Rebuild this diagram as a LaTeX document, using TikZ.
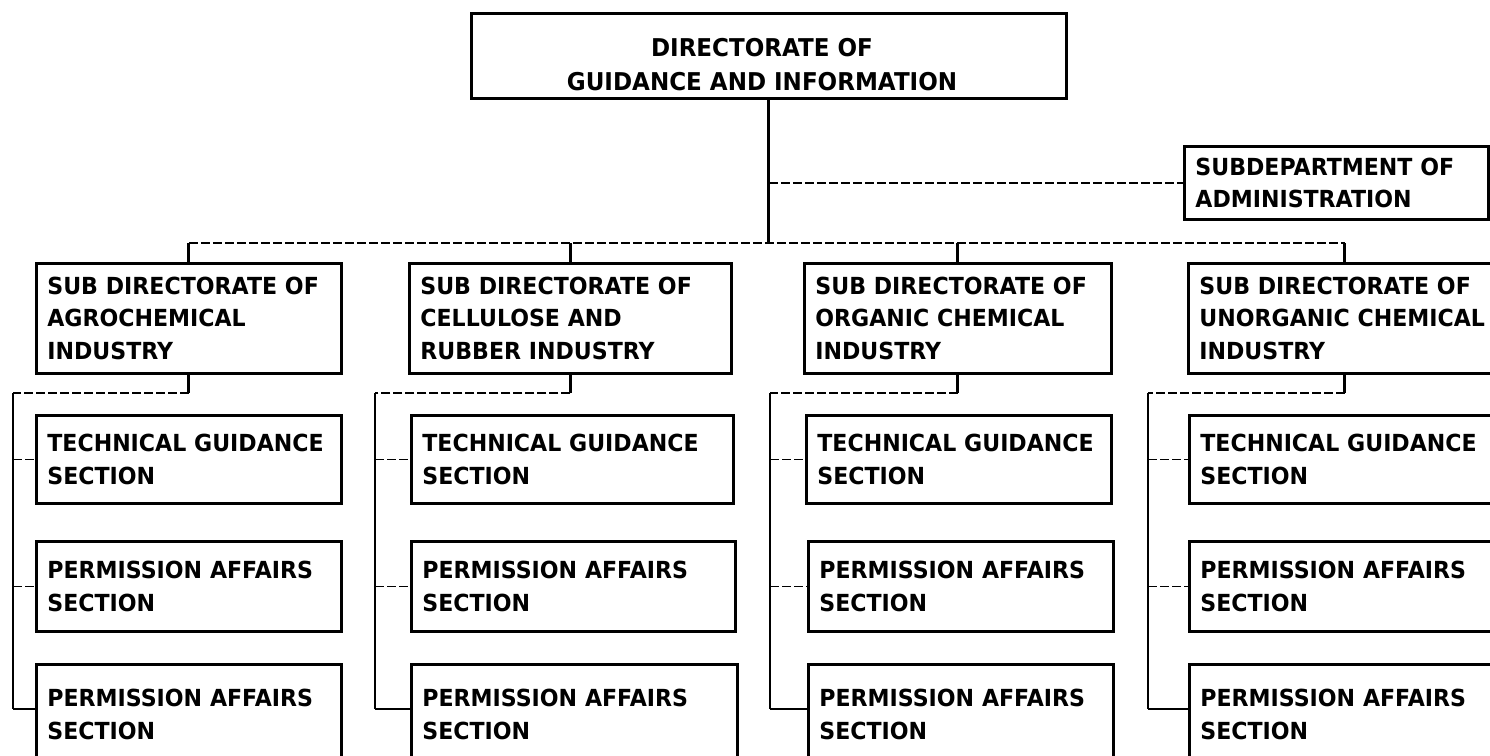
\documentclass[tikz,border=0pt]{standalone}
\usepackage{fontspec}
\setmainfont{DejaVu Sans}
\newfontfamily\orgfont{DejaVu Sans}[FakeStretch=0.94]
\newcommand{\bfnt}{\orgfont\bfseries\fontsize{23.5}{32.5}\selectfont}
\newcommand{\topfnt}{\orgfont\bfseries\fontsize{24.5}{34}\selectfont}
\tikzset{
  orgbox/.style={draw, line width=2.8pt, anchor=north west, inner xsep=11pt, inner ysep=0pt, align=left, font=\bfnt},
  trunk/.style={line width=3pt},
  spine/.style={line width=2.2pt},
  thinlink/.style={line width=1.4pt, dash pattern=on 9pt off 3pt},
}
\newcommand{\orgbx}[6]{\node[orgbox, text width={#4pt-22pt}, minimum height=#5pt] (#1) at (#2,#3) {#6};}
\begin{document}
\begin{tikzpicture}[x=1pt,y=-1pt]
\useasboundingbox (0,0) rectangle (1490,755);
\clip (0,0) rectangle (1490,755);
\fill[white] (0,0) rectangle (1490,755);
% top box
\node[draw, line width=2.6pt, anchor=north west, minimum width=595pt, minimum height=85pt, inner sep=0pt] (top) at (470,12) {};
\node[font=\topfnt, align=center, anchor=north] (toptxt) at (762,35) {DIRECTORATE OF\\GUIDANCE AND INFORMATION};
% subdepartment
\orgbx{adm}{1183}{145}{304}{73}{SUBDEPARTMENT OF\\ADMINISTRATION}
% sub directorates
\orgbx{s1}{35}{262}{305}{110}{\mbox{SUB DIRECTORATE OF}\\AGROCHEMICAL\\INDUSTRY}
\orgbx{s2}{408}{262}{322}{110}{\mbox{SUB DIRECTORATE OF}\\CELLULOSE AND\\RUBBER INDUSTRY}
\orgbx{s3}{803}{262}{307}{110}{\mbox{SUB DIRECTORATE OF}\\ORGANIC CHEMICAL\\INDUSTRY}
\orgbx{s4}{1187}{262}{313}{110}{\mbox{SUB DIRECTORATE OF}\\\mbox{UNORGANIC CHEMICAL}\\INDUSTRY}
% sections
\orgbx{t1}{35}{414}{305}{88}{\mbox{TECHNICAL GUIDANCE}\\SECTION}
\orgbx{a1}{35}{540}{305}{90}{\mbox{PERMISSION AFFAIRS}\\SECTION}
\orgbx{b1}{35}{663}{305}{100}{\mbox{PERMISSION AFFAIRS}\\SECTION}
\orgbx{t2}{410}{414}{322}{88}{\mbox{TECHNICAL GUIDANCE}\\SECTION}
\orgbx{a2}{410}{540}{324}{90}{\mbox{PERMISSION AFFAIRS}\\SECTION}
\orgbx{b2}{410}{663}{326}{100}{\mbox{PERMISSION AFFAIRS}\\SECTION}
\orgbx{t3}{805}{414}{305}{88}{\mbox{TECHNICAL GUIDANCE}\\SECTION}
\orgbx{a3}{807}{540}{305}{90}{\mbox{PERMISSION AFFAIRS}\\SECTION}
\orgbx{b3}{807}{663}{305}{100}{\mbox{PERMISSION AFFAIRS}\\SECTION}
\orgbx{t4}{1188}{414}{312}{88}{\mbox{TECHNICAL GUIDANCE}\\SECTION}
\orgbx{a4}{1188}{540}{312}{90}{\mbox{PERMISSION AFFAIRS}\\SECTION}
\orgbx{b4}{1188}{663}{312}{100}{\mbox{PERMISSION AFFAIRS}\\SECTION}
% helper coordinates
\coordinate (busy) at (0,243);
\coordinate (hy) at (0,393);
\coordinate (sp1) at (13,393);
\coordinate (sp2) at (375,393);
\coordinate (sp3) at (770,393);
\coordinate (sp4) at (1148,393);
% trunk and bus
\draw[trunk] (top.south) -- (top.south |- busy);
\draw[thinlink] (top.south |- adm.west) -- (adm.west);
\draw[thinlink] (s1.north |- busy) -- (s4.north |- busy);
\foreach \s in {s1,s2,s3,s4}{\draw[trunk] (\s.north |- busy) -- (\s.north);}
% columns
\foreach \s/\t/\a/\b/\p in {s1/t1/a1/b1/sp1, s2/t2/a2/b2/sp2, s3/t3/a3/b3/sp3, s4/t4/a4/b4/sp4}{
  \draw[trunk] (\s.south) -- (\s.south |- hy);
  \draw[thinlink] (\s.south |- hy) -- (\p);
  \draw[spine] (\p) -- (\p |- 0,709);
  \draw[thinlink] (\p |- \t.west) -- (\t.west);
  \draw[thinlink] (\p |- \a.west) -- (\a.west);
  \draw[spine] (\p |- 0,709) -- (\b.west |- 0,709);
}
\end{tikzpicture}
\end{document}
